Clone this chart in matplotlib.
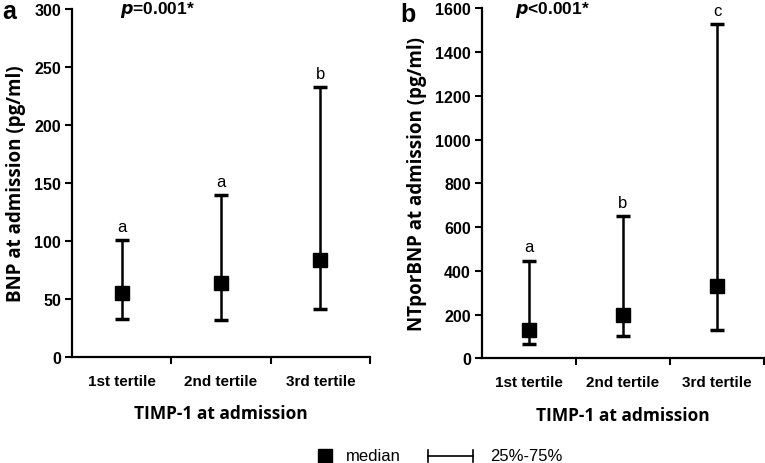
import matplotlib
matplotlib.use("Agg")
import matplotlib.pyplot as plt
import numpy as np

categories = ["1st tertile", "2nd tertile", "3rd tertile"]
bnp_median = [55, 64, 84]
bnp_q1 = [33, 32, 41]
bnp_q3 = [101, 140, 233]
bnp_letters = ["a", "a", "b"]
nt_median = [131, 198, 332]
nt_q1 = [65, 103, 131]
nt_q3 = [446, 650, 1527]
nt_letters = ["a", "b", "c"]

plt.rcParams['font.family'] = ['Liberation Sans', 'DejaVu Sans']

fig = plt.figure(figsize=(7.65, 4.64), dpi=100)
axA = fig.add_axes([0.0941, 0.2284, 0.3896, 0.7496])
axB = fig.add_axes([0.630, 0.2257, 0.3687, 0.7543])

def panel(ax, med, q1, q3, letters, ymax, ystep, ylabel, letter_off, ylpad):
    x = np.arange(1, len(categories) + 1)
    med = np.array(med); q1 = np.array(q1); q3 = np.array(q3)
    ax.errorbar(x, med, yerr=[med - q1, q3 - med], fmt='s', color='black',
                markersize=9.5, elinewidth=1.8, capsize=4.7, capthick=2.5)
    for xi, top, lab in zip(x, q3, letters):
        ax.text(xi, top + letter_off, lab, ha='center', va='bottom', fontsize=12)
    ax.set_xlim(0.5, 3.5)
    ax.set_ylim(0, ymax)
    ax.set_yticks(np.arange(0, ymax + 1, ystep))
    ax.set_xticks([1.5, 2.5, 3.5])
    ax.set_xticklabels([])
    ax.set_xticks(x, minor=True)
    ax.set_xticklabels(categories, minor=True)
    ax.tick_params(axis='x', which='minor', length=0, pad=12, labelsize=11)
    ax.tick_params(axis='x', which='major', length=5, width=1.5)
    ax.tick_params(axis='y', length=5, width=1.5, labelsize=11.5, pad=3)
    for lbl in ax.get_yticklabels() + ax.get_xticklabels(minor=True):
        lbl.set_fontweight('bold')
    for s in ['top', 'right']:
        ax.spines[s].set_visible(False)
    for s in ['left', 'bottom']:
        ax.spines[s].set_linewidth(1.6)
    ax.set_ylabel(ylabel, fontsize=13.5, fontweight='bold',
                  family=['Open Sans', 'DejaVu Sans'], labelpad=ylpad)
    ax.set_xlabel("TIMP-1 at admission", fontsize=12.5, fontweight='bold',
                  family=['Open Sans', 'DejaVu Sans'], labelpad=12)
    return ax

panel(axA, bnp_median, bnp_q1, bnp_q3, bnp_letters, 300, 50,
      "BNP at admission (pg/ml)", 5, 6)
panel(axB, nt_median, nt_q1, nt_q3, nt_letters, 1600, 200,
      "NTporBNP at admission (pg/ml)", 30, 6)

fig.text(0.157, 0.978, r"$\boldsymbol{p}$=0.001*", fontsize=12.5, fontweight='bold',
         ha='left', va='center')
fig.text(0.673, 0.978, r"$\boldsymbol{p}$<0.001*", fontsize=12.5, fontweight='bold',
         ha='left', va='center')
fig.text(0.003, 0.975, "a", fontsize=18, fontweight='bold', ha='left', va='center')
fig.text(0.523, 0.968, "b", fontsize=18, fontweight='bold', ha='left', va='center')

# legend
ly = 1 - 457 / 464
fig.lines.append(plt.Line2D([325 / 765], [ly], marker='s', markersize=10, color='black',
                            linestyle='none', transform=fig.transFigure))
fig.text(346 / 765, ly, "median", fontsize=12, ha='left', va='center')
fig.lines.append(plt.Line2D([428 / 765, 473 / 765], [ly, ly], color='black', lw=1.2,
                            transform=fig.transFigure))
for xx in (428, 473):
    fig.lines.append(plt.Line2D([xx / 765, xx / 765], [ly - 0.014, ly + 0.014], color='black',
                                lw=1.2, transform=fig.transFigure))
fig.text(490 / 765, ly, "25%-75%", fontsize=12, ha='left', va='center')

fig.savefig("out.png", dpi=100)
